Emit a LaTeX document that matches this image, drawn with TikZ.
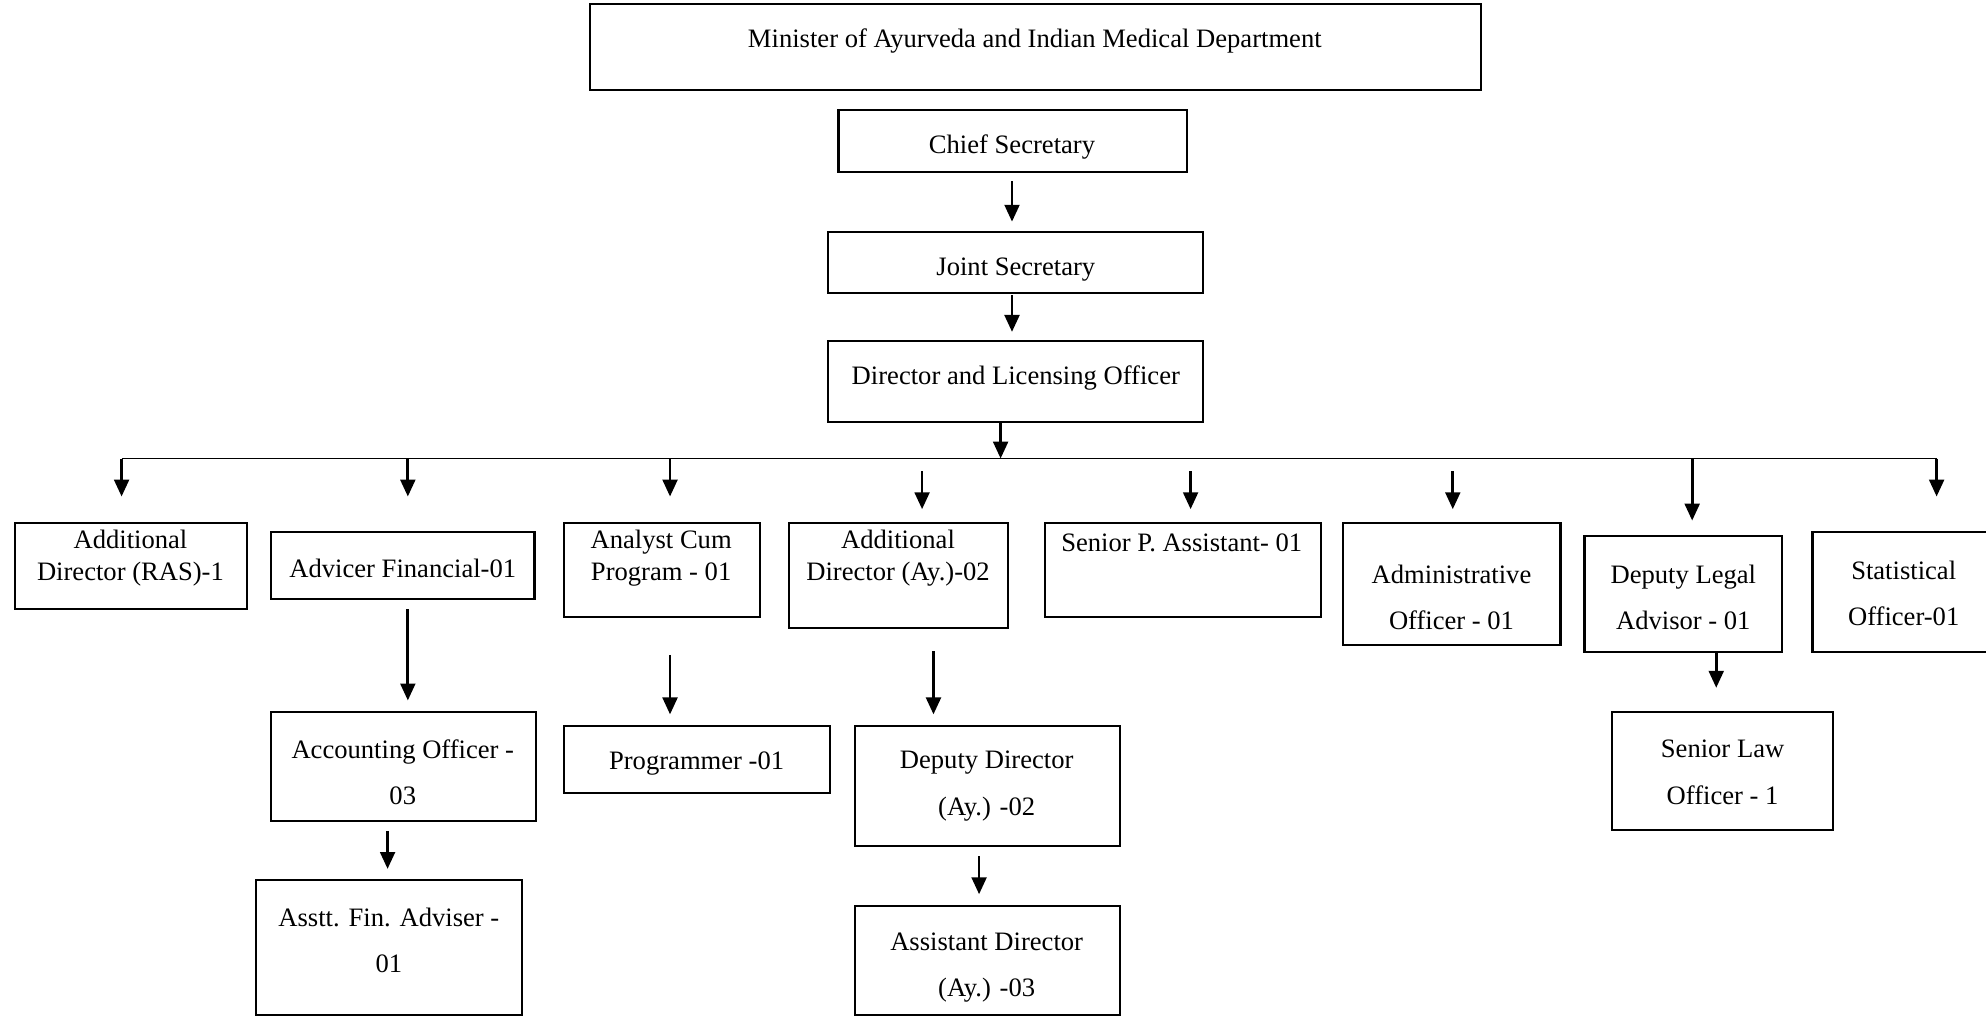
\documentclass[tikz,border=0pt]{standalone}
\usepackage{fontspec}
\setmainfont{Liberation Serif}
\usepackage{tikz}
\usetikzlibrary{positioning,calc,fit,arrows.meta}

\tikzset{
    box/.style={draw=black,line width=1pt,inner sep=0pt},
    txt/.style={align=center,font=\fontsize{12.6}{15.4}\selectfont,inner sep=0pt,yshift=-0.4pt},
    arr/.style={line width=1.3pt,-{Triangle[length=8pt,width=7pt]}}
}

\begin{document}
\begin{tikzpicture}[x=0.6pt,y=-0.6pt]
    \useasboundingbox (0,0) rectangle (1568,802);
    % top of the chain
    \node[box,fit={(466,3) (1169,71)}] (min) {};
    \node[txt] (minT) at (817,32) {Minister of Ayurveda and Indian Medical Department};
    \node[box,fit={(662,87) (937,136)}] (chief) {};
    \node[txt] (chiefT) at (799,115) {Chief Secretary};
    \node[box,fit={(654,183) (950,231)}] (joint) {};
    \node[txt] (jointT) at (802,212) {Joint Secretary};
    \node[box,fit={(654,269) (950,333)}] (dlo) {};
    \node[txt] (dloT) at (802,298) {Director and Licensing Officer};

    % second row
    \node[box,fit={(12,413) (195,481)}] (ras) {};
    \node[txt] (rasT) at (103,440) {Additional\\Director (RAS)-1};
    \node[box,fit={(214,420) (422,473)}] (adv) {};
    \node[txt] (advT) at (318,448) {Advicer Financial-01};
    \node[box,fit={(445,413) (600,487)}] (ana) {};
    \node[txt] (anaT) at (522,440) {Analyst Cum\\Program - 01};
    \node[box,fit={(623,413) (796,496)}] (addir) {};
    \node[txt] (addirT) at (709,440) {Additional\\Director (Ay.)-02};
    \node[box,fit={(825,413) (1043,487)}] (spa) {};
    \node[txt] (spaT) at (933,428) {Senior P. Assistant- 01};
    \node[box,fit={(1060,413) (1232,509)}] (admin) {};
    \node[txt] (adminT) at (1146,471) {Administrative\\[6.5pt]Officer - 01};
    \node[box,fit={(1251,423) (1407,515)}] (legal) {};
    \node[txt] (legalT) at (1329,471) {Deputy Legal\\[6.5pt]Advisor - 01};
    \node[box,fit={(1431,420) (1572,515)}] (stat) {};
    \node[txt] (statT) at (1503,468) {Statistical\\[6.5pt]Officer-01};

    % third and fourth rows
    \node[box,fit={(214,562) (423,648)}] (acc) {};
    \node[txt] (accT) at (318,609) {Accounting Officer -\\[6.5pt]03};
    \node[box,fit={(202,695) (412,801)}] (afa) {};
    \node[txt] (afaT) at (307,742) {Asstt. Fin. Adviser -\\[6.5pt]01};
    \node[box,fit={(445,573) (655,626)}] (prog) {};
    \node[txt] (progT) at (550,602) {Programmer -01};
    \node[box,fit={(675,573) (884,668)}] (dd) {};
    \node[txt] (ddT) at (779,620) {Deputy Director\\[6.5pt](Ay.) -02};
    \node[box,fit={(675,715) (884,801)}] (ad) {};
    \node[txt] (adT) at (779,763) {Assistant Director\\[6.5pt](Ay.) -03};
    \node[box,fit={(1273,562) (1447,655)}] (law) {};
    \node[txt] (lawT) at (1360,609) {Senior Law\\[6.5pt]Officer - 1};

    % the spine
    \draw[arr] (799,143) -- (799,175);
    \draw[arr] (799,233) -- (799,262);
    \coordinate (bus) at (790,362);
    \draw[arr] (dlo.south -| bus) -- (bus);
    \coordinate (busL) at (96,362);
    \coordinate (busR) at (1529,362);
    \draw[line width=0.9pt] (busL) -- (busR);

    % drops from the bus
    \foreach \x in {96,322,529,1529}
        \draw[arr] (\x,362) -- (\x,392);
    \draw[arr] (1336,362) -- (1336,411);
    \foreach \x in {728,940,1147}
        \draw[arr] (\x,372) -- (\x,402);

    % lower arrows
    \draw[arr] (322,481) -- (322,553);
    \draw[arr] (306,656) -- (306,686);
    \draw[arr] (529,517) -- (529,564);
    \draw[arr] (737,514) -- (737,564);
    \draw[arr] (773,676) -- (773,706);
    \draw[arr] (legal.south -| 1355,0) -- (1355,543);
\end{tikzpicture}
\end{document}
